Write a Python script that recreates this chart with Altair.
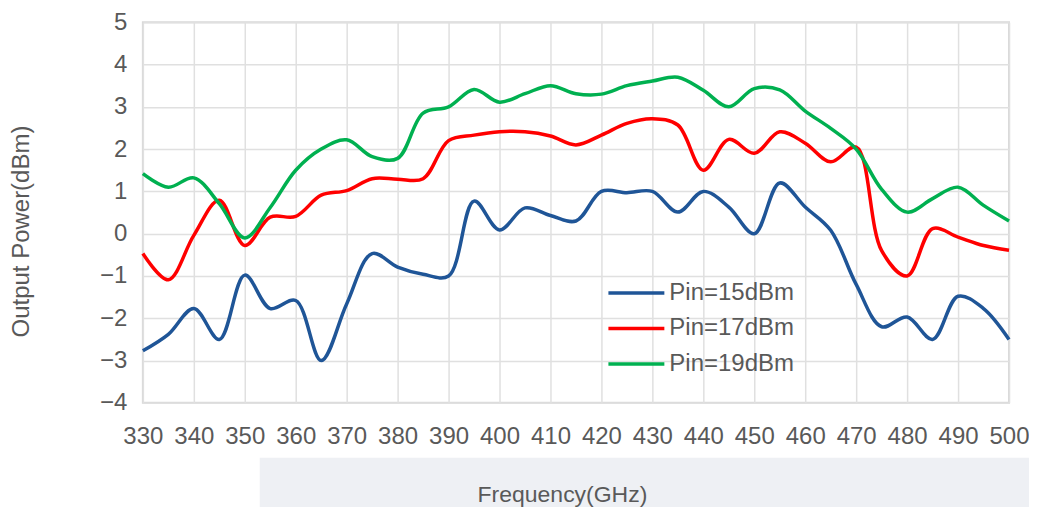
import altair as alt
import pandas as pd

freq = list(range(330, 505, 5))
pin15 = [-2.77, -2.38, -1.77, -2.5, -0.98, -1.77, -1.58, -3.0, -1.66, -0.47,
         -0.79, -0.96, -1.0, 0.77, 0.09, 0.61, 0.43, 0.3, 1.0, 0.97,
         1.0, 0.51, 1.0, 0.63, 0.0, 1.2, 0.63, 0.08, -1.2, -2.2,
         -1.97, -2.5, -1.48, -1.77, -2.5]
pin17 = [-0.47, -1.09, -0.04, 0.79, -0.28, 0.39, 0.41, 0.91, 1.02, 1.3,
         1.29, 1.3, 2.2, 2.33, 2.41, 2.41, 2.31, 2.1, 2.33, 2.61,
         2.72, 2.57, 1.5, 2.23, 1.9, 2.41, 2.14, 1.7, 2.05, -0.4,
         -1.0, 0.12, -0.08, -0.28, -0.39]
pin19 = [1.42, 1.1, 1.32, 0.71, -0.1, 0.62, 1.5, 2.0, 2.22, 1.82,
         1.78, 2.85, 3.0, 3.41, 3.11, 3.31, 3.5, 3.31, 3.3, 3.5,
         3.61, 3.7, 3.39, 3.0, 3.43, 3.4, 2.9, 2.49, 2.0, 1.05,
         0.51, 0.83, 1.1, 0.67, 0.3]
series = ["Pin=15dBm", "Pin=17dBm", "Pin=19dBm"]
colors = ["#1F5597", "#FF0000", "#00B050"]
x_ticks = list(range(330, 510, 10))
y_ticks = list(range(-4, 6))
x_title = "Frequency(GHz)"
y_title = "Output Power(dBm)"

rows = []
for name, vals in zip(series, [pin15, pin17, pin19]):
    for f, v in zip(freq, vals):
        rows.append({"freq": f, "power": v, "series": name})
df = pd.DataFrame(rows)

FONT = "Liberation Sans"
TXT = "#595959"

# light grey backdrop band behind the x-axis title
backdrop = alt.Chart(pd.DataFrame({"k": [0]})).mark_rect(color="#EEF0F4").encode(
    x=alt.value(117), x2=alt.value(900), y=alt.value(436), y2=alt.value(500)
)

lines = alt.Chart(df).mark_line(interpolate="catmull-rom", strokeWidth=3.5).encode(
    x=alt.X("freq:Q",
            scale=alt.Scale(domain=[330, 500], nice=False, zero=False),
            axis=alt.Axis(values=x_ticks, title=None, format="d",
                          labelPadding=22, labelFlush=False)),
    y=alt.Y("power:Q",
            scale=alt.Scale(domain=[-4, 5], nice=False, zero=False),
            axis=alt.Axis(values=y_ticks, title=y_title, format="d",
                          labelPadding=16, titleX=-121, titleY=209,
                          titleBaseline="middle", titleAlign="center",
                          titleFontSize=24, labelFlush=False)),
    color=alt.Color("series:N",
                    scale=alt.Scale(domain=series, range=colors),
                    legend=alt.Legend(title=None, orient="none",
                                      legendX=464, legendY=259,
                                      symbolType="stroke", symbolSize=3136,
                                      symbolStrokeWidth=3.5,
                                      clipHeight=24,
                                      labelFont=FONT, labelFontSize=24,
                                      labelColor=TXT, labelOffset=3,
                                      rowPadding=11.5)),
)

xtitle = alt.Chart(pd.DataFrame({"t": [x_title]})).mark_text(
    font=FONT, fontSize=23, color=TXT, align="center", baseline="middle"
).encode(text="t:N", x=alt.value(420), y=alt.value(473))

chart = alt.layer(backdrop, lines, xtitle).properties(
    width=867, height=381,
    autosize=alt.AutoSizeParams(type="none"),
    padding={"left": 135, "top": 14, "right": 20, "bottom": 104},
).configure_view(
    stroke="#D9D9D9", strokeWidth=2
).configure_axis(
    domain=False, ticks=False,
    grid=True, gridColor="#E0E0E0", gridWidth=1.5,
    labelFont=FONT, labelFontSize=24, labelColor=TXT,
    titleFont=FONT, titleFontSize=23, titleColor=TXT, titleFontWeight="normal",
)

chart.save("out.html", embed_options={"renderer": "svg", "actions": False})
